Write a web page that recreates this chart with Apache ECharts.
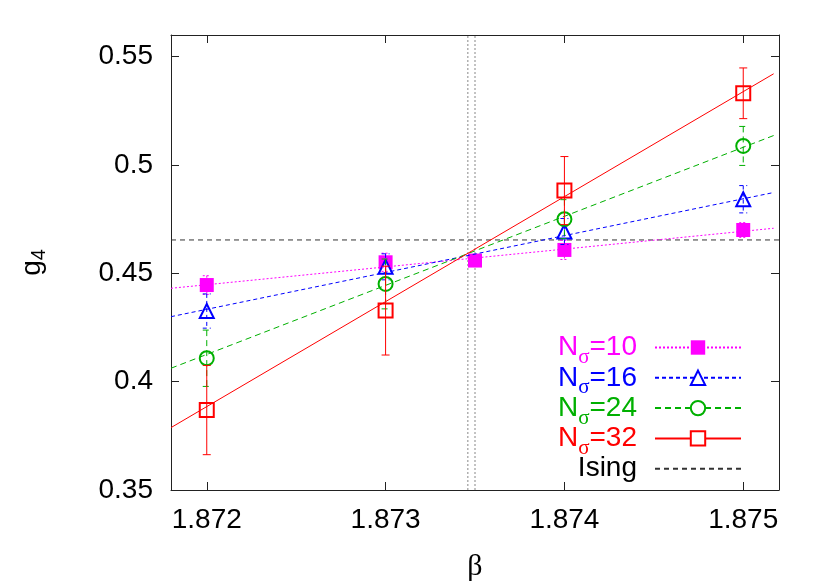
<!DOCTYPE html>
<html lang="en">
<head>
    <meta charset="UTF-8">
    <title>g4 vs beta</title>
    <style>
        html, body {
            margin: 0;
            padding: 0;
            background: #fff;
        }

        #container {
            width: 830px;
            height: 581px;
        }
    </style>
    <script src="https://cdn.jsdelivr.net/npm/echarts@6/dist/echarts.min.js"></script>
</head>
<body>
<div id="container"></div>
<script type="text/javascript">
    // axis ticks
    var betaTicks = [1.872, 1.873, 1.874, 1.875];
    var gTicks = [0.35, 0.4, 0.45, 0.5, 0.55];

    // measured g4 with errors, one set per N_sigma
    var beta10 = [1.872, 1.873, 1.8735, 1.874, 1.875];
    var g10 = [0.4446, 0.4551, 0.4559, 0.4608, 0.4700];
    var err10 = [0.0043, 0.0042, 0.0020, 0.0044, 0.0034];

    var beta16 = [1.872, 1.873, 1.874, 1.875];
    var g16 = [0.4326, 0.4530, 0.4693, 0.4842];
    var err16 = [0.0079, 0.0060, 0.0060, 0.0063];

    var beta24 = [1.872, 1.873, 1.874, 1.875];
    var g24 = [0.4108, 0.4451, 0.4750, 0.5088];
    var err24 = [0.0130, 0.0115, 0.0090, 0.0090];

    var beta32 = [1.872, 1.873, 1.874, 1.875];
    var g32 = [0.3869, 0.4328, 0.4882, 0.5331];
    var err32 = [0.0206, 0.0205, 0.0157, 0.0117];

    // linear fits, value at both ends of the drawn range
    var fitBeta = [1.8718, 1.87517];
    var fit10 = [0.4431, 0.4708];
    var fit16 = [0.4300, 0.4873];
    var fit24 = [0.4062, 0.5136];
    var fit32 = [0.3788, 0.5421];

    // Ising value and beta_c band
    var isingG4 = 0.4654;
    var isingBeta = [1.8718, 1.8752];
    var betaC = [1.87346, 1.87350];

    var X_MIN = 1.8718, X_MAX = 1.8752, Y_MIN = 0.35, Y_MAX = 0.56;
    var FONT = 'Liberation Sans';
    var GREEK = 'Liberation Serif';

    var sets = [
        {key: 'n10', label: '10', color: '#ff00ff', dash: [2, 2], symbol: 'rect', beta: beta10, g: g10, err: err10, fit: fit10},
        {key: 'n16', label: '16', color: '#0000ff', dash: [4, 3], symbol: 'emptyTriangle', beta: beta16, g: g16, err: err16, fit: fit16},
        {key: 'n24', label: '24', color: '#00b000', dash: [6, 4], symbol: 'emptyCircle', beta: beta24, g: g24, err: err24, fit: fit24},
        {key: 'n32', label: '32', color: '#ff0000', dash: null, symbol: 'emptyRect', beta: beta32, g: g32, err: err32, fit: fit32}
    ];

    function pairs(xs, ys) {
        return xs.map(function (x, i) {
            return [x, ys[i]];
        });
    }

    function errorBar(color, dash) {
        return function (params, api) {
            var x = api.value(0);
            var top = api.coord([x, api.value(2)]);
            var bot = api.coord([x, api.value(1)]);
            var st = {stroke: color, lineWidth: 1, lineDash: dash || null, fill: null};
            return {
                type: 'group',
                children: [
                    {type: 'line', shape: {x1: top[0], y1: top[1], x2: bot[0], y2: bot[1]}, style: st},
                    {type: 'line', shape: {x1: top[0] - 4, y1: top[1], x2: top[0] + 4, y2: top[1]}, style: st},
                    {type: 'line', shape: {x1: bot[0] - 4, y1: bot[1], x2: bot[0] + 4, y2: bot[1]}, style: st}
                ]
            };
        };
    }

    var series = [];
    var legendData = [];
    var rich = {};

    sets.forEach(function (s) {
        // fitted line
        series.push({
            name: s.key + 'fit', type: 'line', data: pairs(fitBeta, s.fit),
            symbol: 'none', silent: true, z: 5,
            lineStyle: {color: s.color, width: 1, type: s.dash || 'solid'}
        });
        // error bars
        series.push({
            name: s.key + 'err', type: 'custom', z: 6, silent: true,
            renderItem: errorBar(s.color, s.dash),
            data: s.beta.map(function (b, i) {
                return [b, s.g[i] - s.err[i], s.g[i] + s.err[i]];
            })
        });
        // points (line hidden, used for legend icon)
        series.push({
            name: s.key, type: 'line', data: pairs(s.beta, s.g), z: 4,
            symbol: s.symbol, symbolSize: 14, showAllSymbol: true,
            itemStyle: {color: s.color, borderWidth: 1},
            lineStyle: {color: s.color, width: 1, type: s.dash || 'solid', opacity: 0}
        });
        legendData.push({name: s.key, lineStyle: {opacity: 1}});
        rich[s.key] = {color: s.color, fontSize: 28, fontFamily: FONT, lineHeight: 30};
        rich[s.key + 's'] = {color: s.color, fontSize: 21, fontFamily: GREEK, lineHeight: 30, padding: [20, 0, 0, 0]};
    });

    rich.ising = {color: '#000', fontSize: 28, fontFamily: FONT, lineHeight: 30};
    rich.isings = {color: '#000', fontSize: 21, fontFamily: GREEK, lineHeight: 30, padding: [20, 0, 0, 0]};

    series.push({
        name: 'Ising', type: 'line', data: pairs(isingBeta, [isingG4, isingG4]),
        symbol: 'none', silent: true, z: 3,
        lineStyle: {color: '#333', width: 1, type: [5, 4]}
    });
    betaC.forEach(function (b, i) {
        series.push({
            name: 'betac' + i, type: 'line', data: [[b, Y_MIN], [b, Y_MAX]],
            symbol: 'none', silent: true, z: 2,
            lineStyle: {color: '#888', width: 1, type: [2, 2]}
        });
    });
    legendData.push({name: 'Ising', itemStyle: {opacity: 0}});

    var frameLine = {show: true, onZero: false, lineStyle: {color: '#222', width: 1}};
    var tickStyle = {color: '#222', width: 1};

    var option = {
        animation: false,
        backgroundColor: '#fff',
        grid: {left: 171, right: 51, top: 35, bottom: 91, containLabel: false, outerBoundsMode: 'none'},
        legend: {
            orient: 'vertical', right: 83, top: 322, align: 'right',
            itemWidth: 86, itemHeight: 18, itemGap: -10.7,
            data: legendData,
            formatter: function (name) {
                if (name === 'Ising') return '{isings| }{ising|Ising}';
                var s = sets.filter(function (t) { return t.key === name; })[0];
                return '{' + s.key + '|N}{' + s.key + 's|σ}{' + s.key + '|=' + s.label + '}';
            },
            textStyle: {rich: rich, padding: [0, 13, 0, 0]}
        },
        xAxis: [{
            type: 'value', min: X_MIN, max: X_MAX, position: 'bottom',
            axisLine: frameLine,
            axisTick: {show: true, inside: true, length: 8, customValues: betaTicks, lineStyle: tickStyle},
            axisLabel: {
                customValues: betaTicks, margin: 16, fontSize: 28, fontFamily: FONT, color: '#000',
                formatter: function (v) { return v.toFixed(3); }
            },
            splitLine: {show: false},
            name: 'β', nameLocation: 'middle', nameGap: 62,
            nameTextStyle: {fontSize: 30, fontFamily: GREEK, color: '#000'}
        }, {
            type: 'value', min: X_MIN, max: X_MAX, position: 'top',
            axisLine: frameLine,
            axisTick: {show: true, inside: true, length: 8, customValues: betaTicks, lineStyle: tickStyle},
            axisLabel: {show: false},
            splitLine: {show: false}
        }],
        yAxis: [{
            type: 'value', min: Y_MIN, max: Y_MAX, position: 'left',
            axisLine: frameLine,
            axisTick: {show: true, inside: true, length: 8, customValues: gTicks, lineStyle: tickStyle},
            axisLabel: {
                customValues: gTicks, margin: 18, fontSize: 28, fontFamily: FONT, color: '#000',
                formatter: function (v) { return String(+v.toFixed(2)); }
            },
            splitLine: {show: false},
            name: '{g|g}{s|4}', nameLocation: 'middle', nameGap: 124, nameRotate: 90,
            nameTextStyle: {
                rich: {
                    g: {fontSize: 28, fontFamily: FONT, color: '#000', lineHeight: 30},
                    s: {fontSize: 20, fontFamily: FONT, color: '#000', lineHeight: 30, padding: [14, 0, 0, 0]}
                }
            }
        }, {
            type: 'value', min: Y_MIN, max: Y_MAX, position: 'right',
            axisLine: frameLine,
            axisTick: {show: true, inside: true, length: 8, customValues: gTicks, lineStyle: tickStyle},
            axisLabel: {show: false},
            splitLine: {show: false}
        }],
        series: series
    };

    var myChart = echarts.init(document.getElementById('container'));
    myChart.setOption(option);
</script>
</body>
</html>
